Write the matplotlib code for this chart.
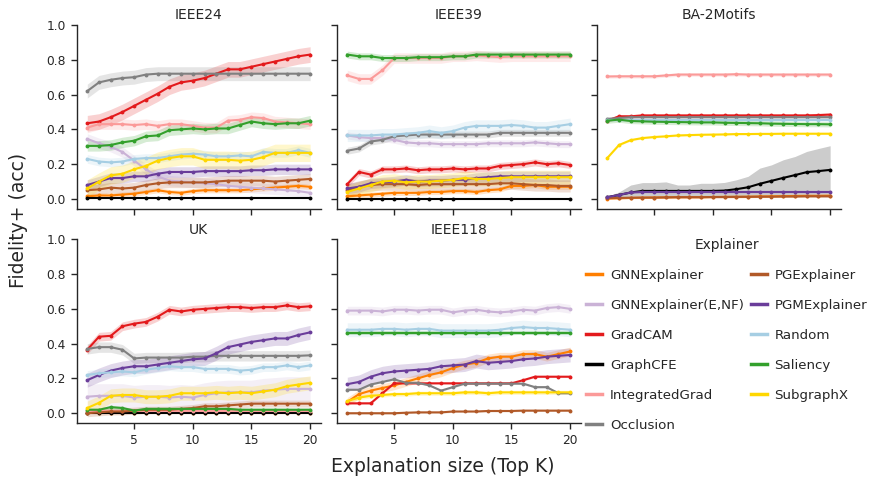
import matplotlib
matplotlib.use("Agg")
import matplotlib.pyplot as plt
from matplotlib.lines import Line2D
import numpy as np

nan = np.nan
k = np.arange(1, 21)

explainers = ["GNNExplainer", "GNNExplainer(E,NF)", "GradCAM", "GraphCFE",
              "IntegratedGrad", "Occlusion", "PGExplainer", "PGMExplainer",
              "Random", "Saliency", "SubgraphX"]
colors = ["#ff7f00", "#cab2d6", "#e31a1c", "#000000", "#fb9a99", "#808080",
          "#b15928", "#6a3d9a", "#a6cee3", "#33a02c", "#ffd700"]

# mean fidelity+ per explainer, K = 1..20
ieee24 = {
    "GNNExplainer": [0.015, 0.02, 0.02, 0.025, 0.03, 0.04, 0.05, 0.04, 0.035, 0.045, 0.05, 0.05, 0.05, 0.05, 0.055, 0.06, 0.065, 0.07, 0.075, 0.07],
    "GNNExplainer(E,NF)": [0.345, 0.32, 0.30, 0.27, 0.22, 0.17, 0.13, 0.105, 0.10, 0.095, 0.09, 0.085, 0.075, 0.07, 0.065, 0.06, 0.055, 0.05, 0.045, 0.035],
    "GradCAM": [0.435, 0.445, 0.47, 0.50, 0.535, 0.57, 0.605, 0.645, 0.67, 0.68, 0.695, 0.72, 0.745, 0.745, 0.76, 0.775, 0.79, 0.805, 0.82, 0.83],
    "GraphCFE": [0.005] * 10 + [nan] * 4 + [0.005] + [nan] * 4 + [0.005],
    "IntegratedGrad": [0.41, 0.43, 0.43, 0.43, 0.425, 0.43, 0.42, 0.43, 0.43, 0.42, 0.41, 0.41, 0.45, 0.455, 0.47, 0.465, 0.445, 0.44, 0.435, 0.43],
    "Occlusion": [0.62, 0.67, 0.685, 0.695, 0.70, 0.715, 0.72, 0.72, 0.72, 0.72, 0.72, 0.72, 0.72, 0.72, 0.72, 0.72, 0.72, 0.72, 0.72, 0.72],
    "PGExplainer": [0.05, 0.055, 0.065, 0.06, 0.065, 0.08, 0.09, 0.095, 0.095, 0.095, 0.095, 0.10, 0.105, 0.105, 0.105, 0.105, 0.10, 0.105, 0.11, 0.115],
    "PGMExplainer": [0.08, 0.10, 0.12, 0.12, 0.13, 0.13, 0.145, 0.155, 0.155, 0.155, 0.16, 0.16, 0.16, 0.16, 0.165, 0.165, 0.17, 0.17, 0.17, 0.17],
    "Random": [0.23, 0.215, 0.21, 0.215, 0.23, 0.235, 0.235, 0.245, 0.255, 0.26, 0.255, 0.245, 0.245, 0.25, 0.245, 0.27, 0.265, 0.265, 0.28, 0.265],
    "Saliency": [0.305, 0.305, 0.31, 0.325, 0.335, 0.36, 0.365, 0.395, 0.40, 0.405, 0.40, 0.405, 0.405, 0.425, 0.445, 0.435, 0.43, 0.435, 0.435, 0.45],
    "SubgraphX": [0.06, 0.10, 0.135, 0.145, 0.17, 0.19, 0.22, 0.235, 0.245, 0.245, 0.225, 0.225, 0.225, 0.22, 0.225, 0.24, 0.265, 0.265, 0.265, 0.265],
}
ieee39 = {
    "GNNExplainer": [0.015, 0.02, 0.025, 0.03, 0.035, 0.035, 0.035, 0.04, 0.04, 0.045, 0.045, 0.04, 0.05, 0.055, 0.075, 0.075, 0.08, 0.07, 0.07, 0.07],
    "GNNExplainer(E,NF)": [0.365, 0.355, 0.35, 0.35, 0.34, 0.325, 0.32, 0.32, 0.315, 0.315, 0.315, 0.315, 0.32, 0.32, 0.32, 0.32, 0.325, 0.32, 0.315, 0.315],
    "GradCAM": [0.085, 0.155, 0.14, 0.17, 0.17, 0.175, 0.165, 0.17, 0.17, 0.175, 0.17, 0.175, 0.175, 0.19, 0.195, 0.20, 0.21, 0.20, 0.205, 0.195],
    "GraphCFE": [0.0] * 10 + [nan] * 4 + [0.0] + [nan] * 4 + [0.0],
    "IntegratedGrad": [0.71, 0.69, 0.69, 0.74, 0.81, 0.81, 0.81, 0.81, 0.81, 0.82, 0.82, 0.825, 0.82, 0.815, 0.82, 0.82, 0.82, 0.82, 0.82, 0.82],
    "Occlusion": [0.277, 0.29, 0.33, 0.34, 0.36, 0.365, 0.37, 0.37, 0.37, 0.37, 0.37, 0.37, 0.37, 0.38, 0.38, 0.38, 0.38, 0.38, 0.38, 0.38],
    "PGExplainer": [0.05, 0.07, 0.08, 0.085, 0.085, 0.085, 0.08, 0.085, 0.085, 0.085, 0.085, 0.085, 0.085, 0.09, 0.09, 0.085, 0.08, 0.08, 0.075, 0.075],
    "PGMExplainer": [0.06, 0.07, 0.09, 0.095, 0.10, 0.11, 0.10, 0.105, 0.105, 0.11, 0.11, 0.12, 0.125, 0.13, 0.13, 0.13, 0.13, 0.13, 0.13, 0.13],
    "Random": [0.365, 0.365, 0.365, 0.37, 0.37, 0.375, 0.38, 0.39, 0.38, 0.39, 0.41, 0.42, 0.42, 0.42, 0.425, 0.42, 0.41, 0.41, 0.42, 0.43],
    "Saliency": [0.83, 0.82, 0.82, 0.81, 0.81, 0.81, 0.815, 0.815, 0.815, 0.82, 0.82, 0.83, 0.83, 0.83, 0.83, 0.83, 0.83, 0.83, 0.83, 0.83],
    "SubgraphX": [0.04, 0.06, 0.08, 0.10, 0.105, 0.095, 0.10, 0.10, 0.105, 0.11, 0.12, 0.115, 0.115, 0.12, 0.125, 0.125, 0.125, 0.125, 0.125, 0.125],
}
ba2motifs = {
    "GNNExplainer": [0.002, 0.004, 0.006, 0.007, 0.008, 0.009, 0.01, 0.01, 0.01, 0.011, 0.012, 0.012, 0.013, 0.014, 0.015, 0.016, 0.017, 0.018, 0.018, 0.019],
    "GradCAM": [0.45, 0.475, 0.475, 0.48, 0.48, 0.48, 0.48, 0.48, 0.48, 0.48, 0.48, 0.48, 0.48, 0.48, 0.48, 0.48, 0.48, 0.48, 0.482, 0.485],
    "GraphCFE": [0.01, 0.023, 0.037, 0.046, 0.046, 0.046, 0.046, 0.046, 0.046, 0.046, 0.048, 0.056, 0.067, 0.087, 0.104, 0.121, 0.137, 0.154, 0.16, 0.167],
    "IntegratedGrad": [0.704, 0.705, 0.705, 0.705, 0.705, 0.71, 0.715, 0.715, 0.715, 0.715, 0.715, 0.717, 0.715, 0.715, 0.715, 0.715, 0.715, 0.715, 0.715, 0.715],
    "Occlusion": [0.46, 0.465, 0.47, 0.47, 0.47, 0.47, 0.47, 0.47, 0.47, 0.47, 0.47, 0.47, 0.47, 0.47, 0.47, 0.47, 0.47, 0.47, 0.47, 0.47],
    "PGExplainer": [0.005, 0.006, 0.007, 0.008, 0.008, 0.009, 0.01, 0.01, 0.01, 0.011, 0.011, 0.012, 0.012, 0.013, 0.013, 0.014, 0.014, 0.015, 0.015, 0.015],
    "PGMExplainer": [0.01, 0.023, 0.037, 0.04, 0.04, 0.04, 0.04, 0.04, 0.04, 0.04, 0.04, 0.04, 0.04, 0.04, 0.04, 0.04, 0.04, 0.04, 0.04, 0.04],
    "Random": [0.452] * 20,
    "Saliency": [0.45, 0.456, 0.448, 0.446, 0.444, 0.443, 0.442, 0.441, 0.44, 0.44, 0.438, 0.437, 0.436, 0.435, 0.433, 0.432, 0.431, 0.43, 0.43, 0.429],
    "SubgraphX": [0.235, 0.31, 0.338, 0.35, 0.356, 0.36, 0.365, 0.367, 0.369, 0.37, 0.371, 0.373, 0.373, 0.374, 0.374, 0.375, 0.375, 0.375, 0.375, 0.375],
}
uk = {
    "GNNExplainer": [0.003] * 20,
    "GNNExplainer(E,NF)": [0.095, 0.10, 0.10, 0.10, 0.09, 0.095, 0.095, 0.09, 0.095, 0.09, 0.105, 0.115, 0.12, 0.12, 0.12, 0.13, 0.135, 0.14, 0.14, 0.14],
    "GradCAM": [0.365, 0.44, 0.445, 0.50, 0.515, 0.525, 0.555, 0.595, 0.585, 0.595, 0.60, 0.605, 0.61, 0.61, 0.605, 0.61, 0.61, 0.62, 0.61, 0.615],
    "GraphCFE": [0.0] * 20,
    "IntegratedGrad": [0.01] * 20,
    "Occlusion": [0.37, 0.38, 0.38, 0.365, 0.315, 0.32, 0.32, 0.32, 0.32, 0.325, 0.325, 0.33, 0.33, 0.33, 0.33, 0.33, 0.33, 0.33, 0.33, 0.333],
    "PGExplainer": [0.0, 0.005, 0.01, 0.01, 0.015, 0.02, 0.02, 0.02, 0.025, 0.03, 0.04, 0.04, 0.045, 0.05, 0.055, 0.055, 0.055, 0.055, 0.055, 0.055],
    "PGMExplainer": [0.19, 0.22, 0.245, 0.26, 0.27, 0.27, 0.28, 0.29, 0.30, 0.31, 0.315, 0.345, 0.38, 0.395, 0.41, 0.42, 0.43, 0.43, 0.45, 0.465],
    "Random": [0.22, 0.23, 0.235, 0.24, 0.235, 0.25, 0.26, 0.27, 0.265, 0.265, 0.255, 0.255, 0.255, 0.245, 0.25, 0.265, 0.265, 0.275, 0.265, 0.275],
    "Saliency": [0.02, 0.02, 0.035, 0.03, 0.015, 0.025, 0.025, 0.025, 0.025, 0.025, 0.025, 0.025, 0.025, 0.02, 0.02, 0.02, 0.02, 0.02, 0.02, 0.02],
    "SubgraphX": [0.03, 0.06, 0.10, 0.105, 0.105, 0.095, 0.095, 0.10, 0.115, 0.115, 0.115, 0.12, 0.115, 0.12, 0.115, 0.125, 0.135, 0.155, 0.165, 0.175],
}
ieee118 = {
    "GNNExplainer": [0.065, 0.11, 0.13, 0.145, 0.16, 0.18, 0.20, 0.22, 0.235, 0.26, 0.28, 0.29, 0.315, 0.325, 0.325, 0.34, 0.34, 0.325, 0.34, 0.355],
    "GNNExplainer(E,NF)": [0.59, 0.59, 0.59, 0.585, 0.595, 0.595, 0.59, 0.595, 0.595, 0.58, 0.59, 0.595, 0.585, 0.58, 0.585, 0.595, 0.59, 0.605, 0.61, 0.60],
    "GradCAM": [0.057, 0.057, 0.057, 0.115, 0.172, 0.172, 0.172, 0.172, 0.172, 0.172, 0.172, 0.172, 0.172, 0.172, 0.172, 0.19, 0.21, 0.21, 0.21, 0.21],
    "Occlusion": [0.135, 0.135, 0.165, 0.18, 0.195, 0.175, 0.175, 0.16, 0.13, 0.15, 0.17, 0.17, 0.17, 0.17, 0.17, 0.17, 0.15, 0.15, 0.115, 0.115],
    "PGExplainer": [0.0, 0.0, 0.0, 0.0, 0.0, 0.003, 0.005, 0.005, 0.005, 0.01, 0.01, 0.01, 0.013, 0.013, 0.013, 0.015, 0.015, 0.015, 0.015, 0.015],
    "PGMExplainer": [0.167, 0.18, 0.21, 0.23, 0.24, 0.245, 0.25, 0.255, 0.27, 0.275, 0.28, 0.30, 0.29, 0.295, 0.30, 0.31, 0.315, 0.325, 0.33, 0.335],
    "Random": [0.48, 0.48, 0.48, 0.485, 0.485, 0.48, 0.485, 0.485, 0.475, 0.475, 0.475, 0.475, 0.475, 0.48, 0.49, 0.495, 0.49, 0.49, 0.485, 0.48],
    "Saliency": [0.46] * 20,
    "SubgraphX": [0.07, 0.09, 0.10, 0.105, 0.11, 0.11, 0.115, 0.115, 0.115, 0.115, 0.12, 0.12, 0.115, 0.12, 0.12, 0.12, 0.12, 0.12, 0.12, 0.12],
}

# half-width of the shaded interval, per explainer
ieee24_ci = {"GNNExplainer": 0.015, "GNNExplainer(E,NF)": 0.03, "GradCAM": 0.045, "GraphCFE": 0.005,
             "IntegratedGrad": 0.03, "Occlusion": 0.04, "PGExplainer": 0.03, "PGMExplainer": 0.03,
             "Random": 0.025, "Saliency": 0.03, "SubgraphX": 0.05}
ieee39_ci = {"GNNExplainer": 0.015, "GNNExplainer(E,NF)": 0.02, "GradCAM": 0.02, "GraphCFE": 0.0,
             "IntegratedGrad": 0.03, "Occlusion": 0.02, "PGExplainer": 0.035, "PGMExplainer": 0.03,
             "Random": 0.035, "Saliency": 0.02, "SubgraphX": 0.04}
ba2motifs_ci = {"GNNExplainer": 0.005, "GradCAM": 0.01, "IntegratedGrad": 0.01, "Occlusion": 0.01,
                "PGExplainer": 0.005, "PGMExplainer": 0.005, "Random": 0.01, "Saliency": 0.015, "SubgraphX": 0.005}
ba2_graphcfe_lo = [0.005, 0.01, 0.015, 0.015, 0.015, 0.015, 0.015, 0.015, 0.015, 0.015, 0.015, 0.015, 0.015, 0.015, 0.015, 0.02, 0.02, 0.025, 0.025, 0.025]
ba2_graphcfe_hi = [0.015, 0.04, 0.08, 0.094, 0.094, 0.098, 0.08, 0.08, 0.09, 0.09, 0.095, 0.11, 0.13, 0.177, 0.196, 0.225, 0.244, 0.273, 0.29, 0.306]
uk_ci = {"GNNExplainer": 0.003, "GNNExplainer(E,NF)": 0.07, "GradCAM": 0.025, "GraphCFE": 0.0,
         "IntegratedGrad": 0.015, "Occlusion": 0.03, "PGExplainer": 0.02, "PGMExplainer": 0.04,
         "Random": 0.025, "Saliency": 0.01, "SubgraphX": 0.04}
ieee118_ci = {"GNNExplainer": 0.025, "GNNExplainer(E,NF)": 0.025, "GradCAM": 0.005, "Occlusion": 0.005,
              "PGExplainer": 0.005, "PGMExplainer": 0.04, "Random": 0.04, "Saliency": 0.01, "SubgraphX": 0.012}

panels = [("IEEE24", ieee24, ieee24_ci), ("IEEE39", ieee39, ieee39_ci),
          ("BA-2Motifs", ba2motifs, ba2motifs_ci), ("UK", uk, uk_ci),
          ("IEEE118", ieee118, ieee118_ci)]

dark = "#262626"
plt.rcParams["font.family"] = "DejaVu Sans"
fig = plt.figure(figsize=(8.73, 4.79), dpi=100)

W, H = 873.0, 479.0
lefts = [76.7, 336.7, 596.7]
tops = [25.0, 239.3]
aw, ah = 244.0, 183.5

for i, (title, data, ci) in enumerate(panels):
    r, c = divmod(i, 3)
    ax = fig.add_axes([lefts[c] / W, 1 - (tops[r] + ah) / H, aw / W, ah / H])
    for name, col in zip(explainers, colors):
        if name not in data:
            continue
        y = np.array(data[name], dtype=float)
        ok = ~np.isnan(y)
        if title == "BA-2Motifs" and name == "GraphCFE":
            lo, hi = np.array(ba2_graphcfe_lo), np.array(ba2_graphcfe_hi)
        else:
            lo, hi = y - ci[name], y + ci[name]
        ax.fill_between(k[ok], lo[ok], hi[ok], color=col, alpha=0.2, lw=0)
        ax.plot(k[ok], y[ok], color=col, lw=1.5, marker="o", ms=2.8, mew=0)
    ax.set_xlim(0.1, 20.9)
    ax.set_ylim(-0.055, 1.0)
    ax.set_xticks([5, 10, 15, 20])
    ax.set_yticks([0.0, 0.2, 0.4, 0.6, 0.8, 1.0])
    ax.spines[["top", "right"]].set_visible(False)
    for s in ["left", "bottom"]:
        ax.spines[s].set_color(dark)
        ax.spines[s].set_linewidth(1.0)
    ax.tick_params(colors=dark, labelsize=8.8, length=4, width=1.0, pad=4)
    if c != 0:
        ax.tick_params(labelleft=False)
    if r == 0:
        ax.tick_params(labelbottom=False)
    ax.set_title(title, fontsize=10, color=dark, pad=4)

fig.text(19 / W, 1 - 220 / H, "Fidelity+ (acc)", rotation=90, ha="center", va="center",
         fontsize=13.5, color=dark)
fig.text(443 / W, 1 - 466 / H, "Explanation size (Top K)", ha="center", va="center",
         fontsize=13.5, color=dark)

handles = [Line2D([], [], color=col, lw=2.5) for col in colors]
leg = fig.legend(handles, explainers, title="Explainer", ncol=2, frameon=False,
                 loc="upper left", bbox_to_anchor=(586 / W, 1 - 238 / H),
                 fontsize=9.6, title_fontsize=9.9, handlelength=1.2, handletextpad=0.6,
                 labelspacing=1.27, columnspacing=0.5, borderpad=0, borderaxespad=0)
for t in leg.get_texts():
    t.set_color(dark)
leg.get_title().set_color(dark)

fig.savefig("out.png", dpi=100)
